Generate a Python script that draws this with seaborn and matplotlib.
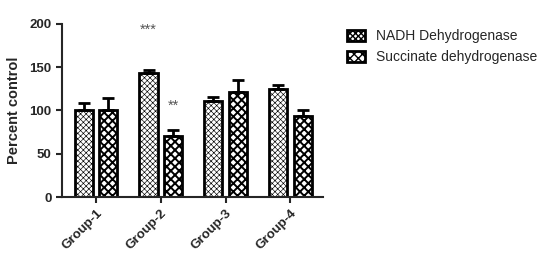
import seaborn as sns
import pandas as pd
import matplotlib.pyplot as plt
from matplotlib.patches import Patch

groups = ["Group-1", "Group-2", "Group-3", "Group-4"]
enzymes = ["NADH Dehydrogenase", "Succinate dehydrogenase"]
nadh = [100, 143, 111, 125]
nadh_err = [9, 4, 5, 4]
sdh = [100, 70, 121, 94]
sdh_err = [14, 7, 14, 7]
stars = [("***", 1, 0, 193), ("**", 1, 1, 106)]

df = pd.DataFrame({
    "group": groups * 2,
    "enzyme": [enzymes[0]] * 4 + [enzymes[1]] * 4,
    "value": nadh + sdh,
    "err": nadh_err + sdh_err,
})

sns.set_style("ticks")
plt.rcParams["font.family"] = ["Liberation Sans", "DejaVu Sans"]
plt.rcParams["hatch.color"] = "black"

fig = plt.figure(figsize=(5.39, 2.60), dpi=100)
ax = fig.add_axes([0.115, 0.242, 0.484, 0.666])

sns.barplot(data=df, x="group", y="value", hue="enzyme", ax=ax,
            width=0.76, gap=0.26, palette=["white", "white"],
            edgecolor="black", linewidth=2, errorbar=None, legend=False)

hatches = ["xxxxxx", "xxxx"]
hatch_lw = [0.45, 1.4]


def style_patch(p, i):
    p.set_hatch(hatches[i])
    try:
        p.set_hatch_linewidth(hatch_lw[i])
    except AttributeError:
        pass


bar_conts = list(ax.containers)
for i, cont in enumerate(bar_conts):
    errs = nadh_err if i == 0 else sdh_err
    for bar, e in zip(cont.patches, errs):
        style_patch(bar, i)
        cx = bar.get_x() + bar.get_width() / 2
        top = bar.get_height()
        ax.errorbar(cx, top, yerr=[[0], [e]], color="black", lw=2,
                    capsize=4, capthick=2, zorder=1)

for txt, gi, hi, y in stars:
    bar = bar_conts[hi].patches[gi]
    ax.text(bar.get_x() + bar.get_width() / 2, y, txt, ha="center",
            va="center", fontsize=10.5, color="#555555")

ax.set_ylim(0, 200)
ax.set_xlim(-0.525, 3.5)
ax.set_yticks([0, 50, 100, 150, 200])
ax.set_xlabel("")
ax.set_ylabel("Percent control", fontsize=10.5, fontweight="bold", labelpad=6)
for lab in ax.get_yticklabels():
    lab.set_fontweight("bold")
    lab.set_fontsize(9.5)
ax.set_xticks(range(4))
ax.set_xticklabels(groups, rotation=45, ha="right", rotation_mode="anchor",
                   fontsize=9.5, fontweight="bold")
ax.tick_params(width=1.5, length=4)
for s in ["left", "bottom"]:
    ax.spines[s].set_linewidth(1.5)
sns.despine(ax=ax)

handles = []
for i in range(2):
    h = Patch(facecolor="white", edgecolor="black", lw=2)
    style_patch(h, i)
    handles.append(h)
fig.legend(handles, enzymes, loc="upper left", bbox_to_anchor=(0.62, 0.935),
           frameon=False, fontsize=10, handlelength=1.3, handleheight=0.8,
           handletextpad=0.8)

fig.savefig("out.png", dpi=100)
